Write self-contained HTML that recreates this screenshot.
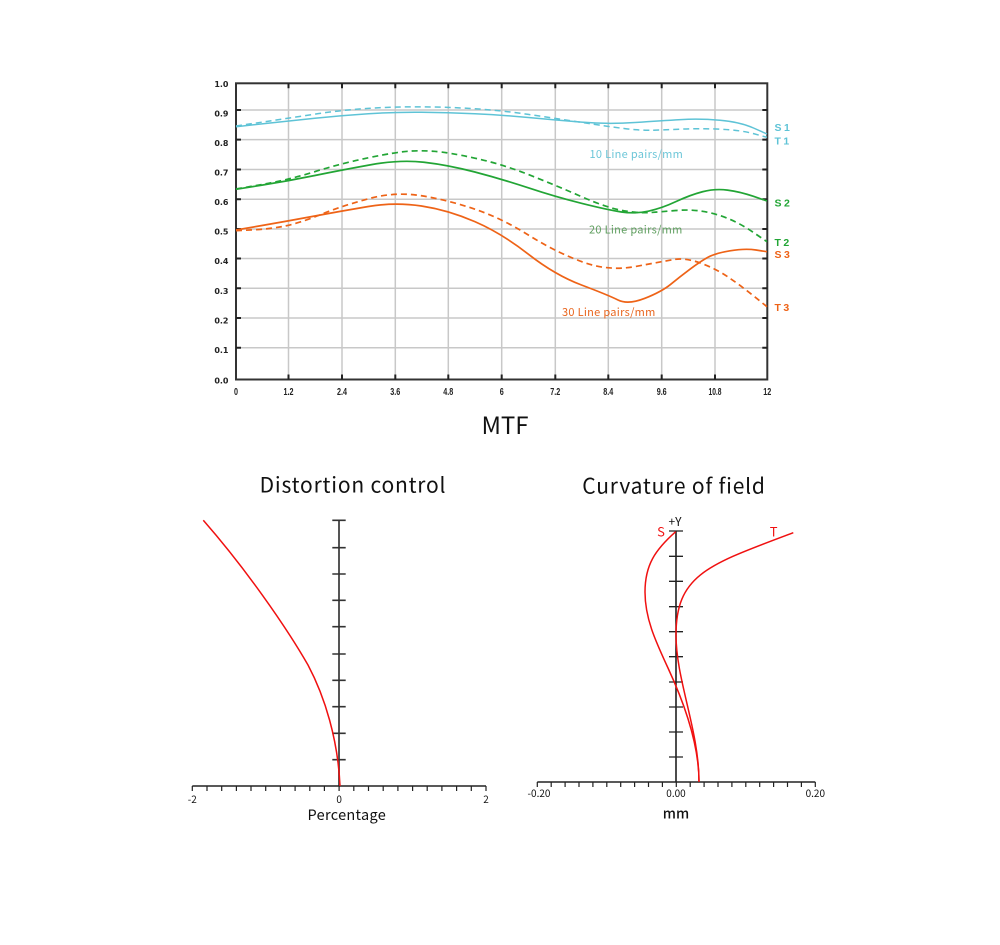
<!DOCTYPE html>
<html><head><meta charset="utf-8"><style>
html,body{margin:0;padding:0;background:#fff;}
svg{display:block;}
.yl{font-family:"DejaVu Sans",sans-serif;font-weight:bold;font-size:8px;fill:#222;text-anchor:end;}
.xl{font-family:"Liberation Sans",sans-serif;font-weight:bold;font-size:10.5px;fill:#222;text-anchor:middle;}
.cj{font-family:"Noto Sans CJK SC","Liberation Sans",sans-serif;}
.ti{font-family:"Noto Sans CJK SC","Liberation Sans",sans-serif;fill:#111;text-anchor:middle;}
.rl{font-family:"Liberation Sans",sans-serif;font-weight:bold;font-size:10.5px;letter-spacing:2.5px;}
</style></head><body>
<svg width="1000" height="945" viewBox="0 0 1000 945" xmlns="http://www.w3.org/2000/svg">
<rect width="1000" height="945" fill="#fff"/>
<!-- MTF grid -->
<g stroke="#c8c8c8" stroke-width="1.5">
<line x1="288.5" y1="83.3" x2="288.5" y2="379.5"/>
<line x1="342" y1="83.3" x2="342" y2="379.5"/>
<line x1="395.3" y1="83.3" x2="395.3" y2="379.5"/>
<line x1="448.3" y1="83.3" x2="448.3" y2="379.5"/>
<line x1="501.7" y1="83.3" x2="501.7" y2="379.5"/>
<line x1="555.3" y1="83.3" x2="555.3" y2="379.5"/>
<line x1="608.3" y1="83.3" x2="608.3" y2="379.5"/>
<line x1="661.7" y1="83.3" x2="661.7" y2="379.5"/>
<line x1="715" y1="83.3" x2="715" y2="379.5"/>
<line x1="236" y1="110" x2="767.3" y2="110"/>
<line x1="236" y1="139.6" x2="767.3" y2="139.6"/>
<line x1="236" y1="169.5" x2="767.3" y2="169.5"/>
<line x1="236" y1="199.2" x2="767.3" y2="199.2"/>
<line x1="236" y1="229" x2="767.3" y2="229"/>
<line x1="236" y1="258.5" x2="767.3" y2="258.5"/>
<line x1="236" y1="288.3" x2="767.3" y2="288.3"/>
<line x1="236" y1="318" x2="767.3" y2="318"/>
<line x1="236" y1="347.7" x2="767.3" y2="347.7"/>
</g>
<rect x="236" y="83.3" width="531.3" height="296.2" fill="none" stroke="#333" stroke-width="2"/>
<g stroke="#222" stroke-width="2">
<path d="M236 110h5M236 139.6h5M236 169.5h5M236 199.2h5M236 229h5M236 258.5h5M236 288.3h5M236 318h5M236 347.7h5"/>
<path d="M767.3 110h-5M767.3 139.6h-5M767.3 169.5h-5M767.3 199.2h-5M767.3 229h-5M767.3 258.5h-5M767.3 288.3h-5M767.3 318h-5M767.3 347.7h-5"/>
<path d="M288.5 83.3v5M342 83.3v5M395.3 83.3v5M448.3 83.3v5M501.7 83.3v5M555.3 83.3v5M608.3 83.3v5M661.7 83.3v5M715 83.3v5"/>
<path d="M288.5 379.5v-5M342 379.5v-5M395.3 379.5v-5M448.3 379.5v-5M501.7 379.5v-5M555.3 379.5v-5M608.3 379.5v-5M661.7 379.5v-5M715 379.5v-5"/>
</g>
<text class="yl" x="228.5" y="87">1.0</text>
<text class="yl" x="228.5" y="116.5">0.9</text>
<text class="yl" x="228.5" y="146">0.8</text>
<text class="yl" x="228.5" y="175.7">0.7</text>
<text class="yl" x="228.5" y="205">0.6</text>
<text class="yl" x="228.5" y="234.5">0.5</text>
<text class="yl" x="228.5" y="264">0.4</text>
<text class="yl" x="228.5" y="294">0.3</text>
<text class="yl" x="228.5" y="323.5">0.2</text>
<text class="yl" x="228.5" y="353">0.1</text>
<text class="yl" x="228.5" y="383.7">0.0</text>
<text class="xl" x="236" y="395" textLength="4" lengthAdjust="spacingAndGlyphs">0</text>
<text class="xl" x="288.5" y="395" textLength="10" lengthAdjust="spacingAndGlyphs">1.2</text>
<text class="xl" x="342" y="395" textLength="10" lengthAdjust="spacingAndGlyphs">2.4</text>
<text class="xl" x="395.3" y="395" textLength="10" lengthAdjust="spacingAndGlyphs">3.6</text>
<text class="xl" x="448.3" y="395" textLength="10" lengthAdjust="spacingAndGlyphs">4.8</text>
<text class="xl" x="501.7" y="395" textLength="4" lengthAdjust="spacingAndGlyphs">6</text>
<text class="xl" x="555.3" y="395" textLength="10" lengthAdjust="spacingAndGlyphs">7.2</text>
<text class="xl" x="608.3" y="395" textLength="10" lengthAdjust="spacingAndGlyphs">8.4</text>
<text class="xl" x="661.7" y="395" textLength="10" lengthAdjust="spacingAndGlyphs">9.6</text>
<text class="xl" x="715" y="395" textLength="13" lengthAdjust="spacingAndGlyphs">10.8</text>
<text class="xl" x="767.3" y="395" textLength="8" lengthAdjust="spacingAndGlyphs">12</text>
<g fill="none" stroke-linecap="butt" stroke-linejoin="round">
<path stroke="#5ec3d6" stroke-width="1.5" d="M236,126.7 L262,123.85 Q288,121 314.85,118.25 Q341.7,115.5 368.35,113.75 Q395,112 421.5,112.25 Q448,112.5 474.85,113.75 Q501.7,115 528.35,117.5 Q555,120 581.5,122.15 Q608,124.3 634.85,122.5 Q661.7,120.7 680.85,119.6 Q700,118.5 720,120.25 Q740,122 753.5,128 L767,134"/>
<path stroke="#5ec3d6" stroke-width="1.5" stroke-dasharray="6 4" d="M236,126 L262,122.15 Q288,118.3 314.85,114.15 Q341.7,110 368.35,108.35 Q395,106.7 421.5,106.85 Q448,107 474.85,108.75 Q501.7,110.5 528.35,114.4 Q555,118.3 581.5,122.4 Q608,126.5 624,128.5 Q640,130.5 650.85,130.25 Q661.7,130 680.85,129.15 Q700,128.3 720,129.15 Q740,130 753.5,133.65 L767,137.3"/>
<path stroke="#22a535" stroke-width="1.7" d="M236,189.3 L262,185.15 Q288,181 314.85,175.5 Q341.7,170 370.85,164.75 Q400,159.5 424,162.25 Q448,165 474.85,172 Q501.7,179 528.35,187.85 Q555,196.7 581.5,203.35 Q608,210 621.5,212 Q635,214 648.35,211.15 Q661.7,208.3 675.85,201.65 Q690,195 702.5,191.75 Q715,188.5 727.5,190.1 Q740,191.7 753.5,196.35 L767,201"/>
<path stroke="#22a535" stroke-width="1.7" stroke-dasharray="6 4" d="M236,189 L262,184.5 Q288,180 314.85,171.65 Q341.7,163.3 368.35,157.8 Q395,152.3 407.5,151.3 Q420,150.3 434,151.3 Q448,152.3 474.85,158.15 Q501.7,164 528.35,174.5 Q555,185 581.5,196.65 Q608,208.3 624,210.8 Q640,213.3 650.85,212.5 Q661.7,211.7 675.85,210.5 Q690,209.3 702.5,211.3 Q715,213.3 727.5,218.3 Q740,223.3 753.5,232.5 L767,241.7"/>
<path stroke="#ee6317" stroke-width="1.7" d="M236,230 L262,225.5 Q288,221 314.85,216 Q341.7,211 368.35,206.5 Q395,202 421.5,206 Q448,210 474.85,221.65 Q501.7,233.3 528.35,254.15 Q555,275 581.5,285 Q608,295 618,300 Q628,305 644.85,298.35 Q661.7,291.7 670.85,284.2 Q680,276.7 690,269.2 Q700,261.7 707.5,257.5 Q715,253.3 730,250.8 Q745,248.3 756,250 L767,251.7"/>
<path stroke="#ee6317" stroke-width="1.7" stroke-dasharray="6 4" d="M236,230.7 L253,229.85 Q270,229 285,226 Q300,223 320.85,214.5 Q341.7,206 368.35,198.75 Q395,191.5 421.5,195.75 Q448,200 474.85,209.15 Q501.7,218.3 528.35,235 Q555,251.7 581.5,261.6 Q608,271.5 634.85,266.6 Q661.7,261.7 673.35,259.6 Q685,257.5 700,262.9 Q715,268.3 727.5,276.65 Q740,285 753.5,295.85 L767,306.7"/>
</g>
<text class="cj" x="589.5" y="158" font-size="11" letter-spacing="0.3" fill="#6cc6d8">10 Line pairs/mm</text>
<text class="cj" x="589" y="233.3" font-size="11" letter-spacing="0.3" fill="#5e9e5e">20 Line pairs/mm</text>
<text class="cj" x="562" y="316" font-size="11" letter-spacing="0.3" fill="#e8641c">30 Line pairs/mm</text>
<text class="rl" x="774.5" y="131" fill="#5ec3d6">S1</text>
<text class="rl" x="774.5" y="144.5" fill="#5ec3d6">T1</text>
<text class="rl" x="774.5" y="206.5" fill="#22a535">S2</text>
<text class="rl" x="774.5" y="245.8" fill="#22a535">T2</text>
<text class="rl" x="774.5" y="257.8" fill="#ee6317">S3</text>
<text class="rl" x="774.5" y="310.8" fill="#ee6317">T3</text>
<text class="ti" x="505" y="434" font-size="24">MTF</text>

<!-- Distortion -->
<text class="ti" x="353" y="492.3" font-size="21" letter-spacing="0.8">Distortion control</text>
<line x1="339" y1="520" x2="339" y2="786" stroke="#555" stroke-width="2"/>
<g stroke="#333" stroke-width="1.6">
<path d="M332.3 520.3h13.4M332.3 547.7h13.4M332.3 574h13.4M332.3 600.3h13.4M332.3 626.7h13.4M332.3 654h13.4M332.3 680.3h13.4M332.3 706.7h13.4M332.3 733.3h13.4M332.3 759.7h13.4"/>
</g>
<line x1="192.3" y1="786" x2="486" y2="786" stroke="#222" stroke-width="1.5"/>
<g stroke="#222" stroke-width="1.2">
<path d="M192.3 786v5M207 786v5M221.7 786v5M236.4 786v5M251 786v5M265.7 786v5M280.4 786v5M295.1 786v5M309.8 786v5M324.4 786v5M339.1 786v5M353.8 786v5M368.5 786v5M383.2 786v5M397.9 786v5M412.6 786v5M427.2 786v5M441.9 786v5M456.6 786v5M471.3 786v5M486 786v5"/>
</g>
<text class="ti" x="192.3" y="803" font-size="10">-2</text>
<text class="ti" x="339.1" y="803" font-size="10">0</text>
<text class="ti" x="486" y="803" font-size="10">2</text>
<text class="ti" x="346.8" y="820" font-size="14.5" letter-spacing="0.3">Percentage</text>
<path fill="none" stroke="#f01010" stroke-width="1.5" d="M203.3,520.3 C245,568 285,625 308,665 C325,697 338,740 340,786"/>

<!-- Curvature -->
<text class="ti" x="674" y="493.7" font-size="21" letter-spacing="0.8">Curvature of field</text>
<line x1="676" y1="531" x2="676" y2="782" stroke="#111" stroke-width="1.5"/>
<g stroke="#222" stroke-width="1.3">
<path d="M669 531h14M669 556.3h14M669 581.3h14M669 606.7h14M669 631.7h14M669 656.7h14M669 682h14M669 707h14M669 732h14M669 757h14"/>
</g>
<line x1="537.3" y1="782" x2="815.3" y2="782" stroke="#222" stroke-width="1.5"/>
<g stroke="#222" stroke-width="1.2">
<path d="M537.3 782v5M551.2 782v5M565.1 782v5M579 782v5M592.9 782v5M606.8 782v5M620.7 782v5M634.6 782v5M648.5 782v5M662.4 782v5M676.3 782v5M690.2 782v5M704.1 782v5M718 782v5M731.9 782v5M745.8 782v5M759.7 782v5M773.6 782v5M787.5 782v5M801.4 782v5M815.3 782v5"/>
</g>
<text class="ti" x="539" y="797" font-size="10">-0.20</text>
<text class="ti" x="676" y="797" font-size="10">0.00</text>
<text class="ti" x="815.3" y="797" font-size="10">0.20</text>
<text class="ti" x="676" y="818.5" font-size="14" font-weight="500">mm</text>
<text class="ti" x="675" y="526" font-size="12">+Y</text>
<text x="661" y="536.7" font-size="13" fill="#f01010" text-anchor="middle" class="cj">S</text>
<text x="773.7" y="536.7" font-size="13" fill="#f01010" text-anchor="middle" class="cj">T</text>
<g fill="none" stroke="#f01010" stroke-width="1.5">
<path d="M675.7,531.7 C655,550 645,565 645,592 C645,618 655,640 668,668 C681,696 699,740 699,781.7"/>
<path d="M793.3,532.7 C709,564.6 676,574 676,635 C676,680 699,730 699,781.7"/>
</g>
</svg>
</body></html>
